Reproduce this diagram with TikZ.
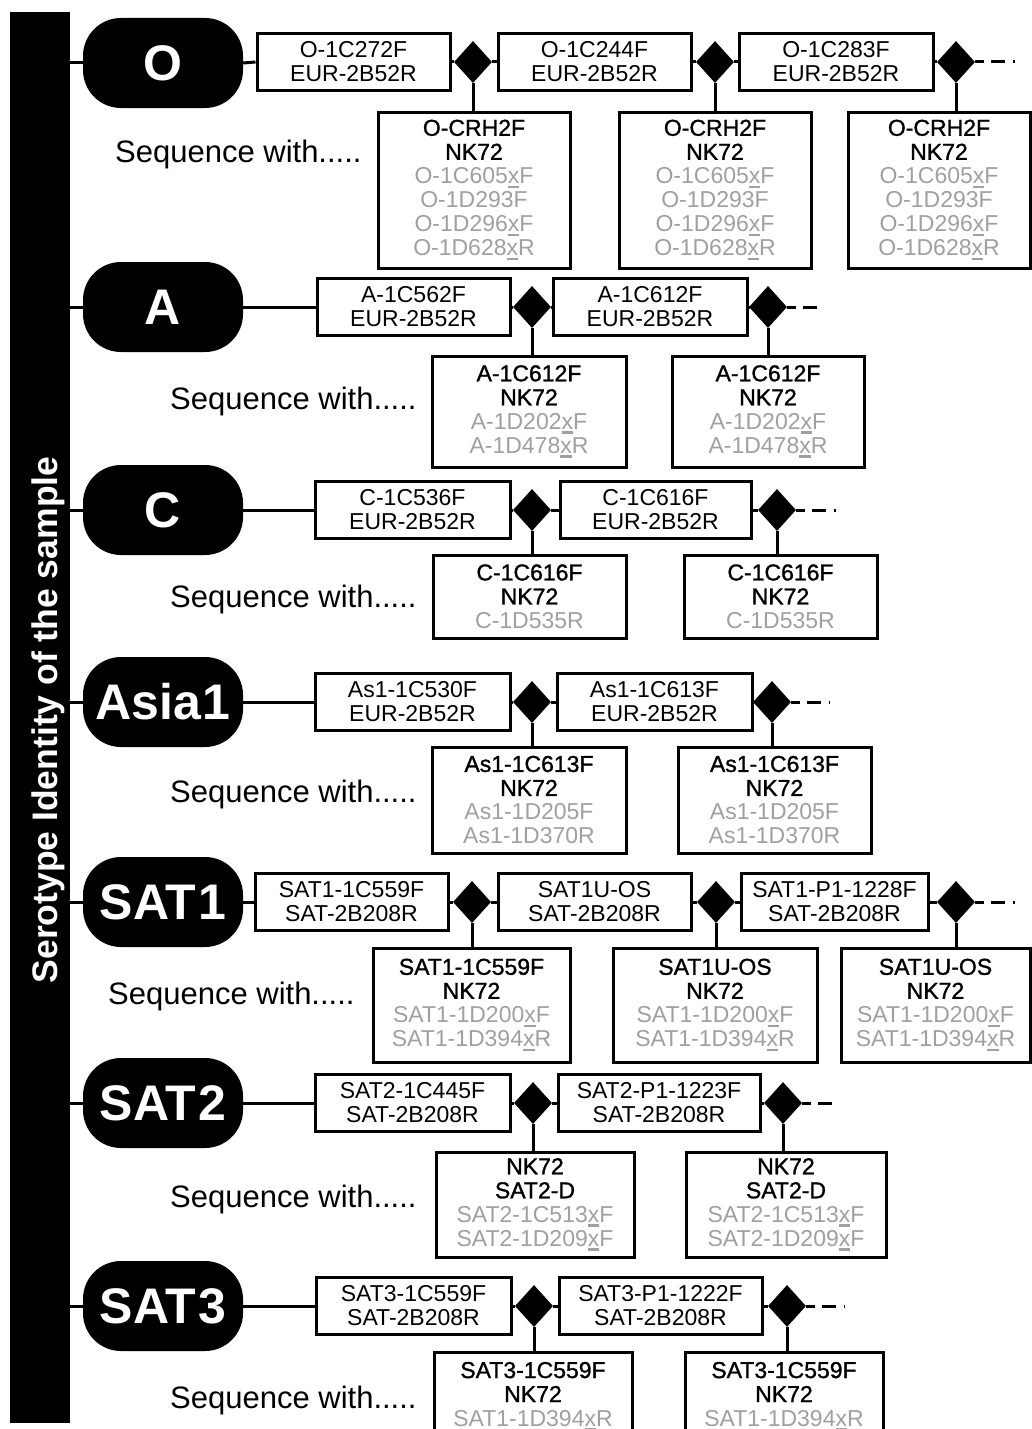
\documentclass[tikz,border=0pt]{standalone}
\usepackage{fontspec}
\setmainfont{Liberation Sans}
\newfontfamily\semib[FakeBold=1.2]{Liberation Sans}
\usetikzlibrary{shapes.geometric}
\definecolor{gtx}{HTML}{A0A0A0}
\newcommand\ux{\makebox[0pt][l]{\rule[-4.5pt]{0.5em}{2.5pt}}x}
\newcommand\gl[1]{\textcolor{gtx}{\normalfont\fontsize{23}{24}\selectfont #1}}
\newcommand\bk[1]{{\semib #1}}
\begin{document}
\begin{tikzpicture}[x=1pt,y=-1pt,
  pbox/.style={draw, line width=3pt, inner sep=0pt, align=center, font=\fontsize{23}{24}\selectfont, minimum height=57},
  lbox/.style={pbox},
  dmd/.style={diamond, fill=black, inner sep=0pt, minimum width=38, minimum height=42},
  pill/.style={fill=black, rounded corners=38pt, minimum width=160, minimum height=90, text=white, font=\fontsize{50}{50}\selectfont\bfseries, inner sep=0pt},
  conn/.style={line width=3pt},
  cont/.style={line width=3pt, dash pattern=on 9pt off 7pt on 14pt off 8pt on 3pt off 200pt},
  seq/.style={anchor=base west, inner sep=0pt, font=\fontsize{31}{31}\selectfont},
]
\useasboundingbox (0,0) rectangle (1032,1429);
\clip (0,0) rectangle (1032,1429);
\fill[white] (0,0) rectangle (1032,1429);

% side bar
\node[fill=black, minimum width=60, minimum height=1411, inner sep=0pt] (bar) at (40,717.5) {};
\node[rotate=90, anchor=base, text=white, inner sep=0pt, font=\fontsize{35.5}{35.5}\selectfont\bfseries] (lab) at (57,720) {Serotype Identity of the sample};

% ---------- O ----------
\node[pill] (pO) at (163,63) {O};
\node[pbox, minimum width=193] (o1) at (353.5,62) {O-1C272F\\EUR-2B52R};
\node[dmd] (od1) at (473,62) {};
\node[pbox, minimum width=193] (o2) at (594.5,62) {O-1C244F\\EUR-2B52R};
\node[dmd] (od2) at (715,62) {};
\node[pbox, minimum width=194] (o3) at (836,62) {O-1C283F\\EUR-2B52R};
\node[dmd] (od3) at (956,62) {};
\coordinate (oe) at (1015,62);
\node[lbox, minimum width=192, minimum height=156] (ol1) at (474,190) {\bk{O-CRH2F}\\\bk{NK72}\\\gl{O-1C605\ux F}\\\gl{O-1D293F}\\\gl{O-1D296\ux F}\\\gl{O-1D628\ux R}};
\node[lbox, minimum width=192, minimum height=156] (ol2) at (715,190) {\bk{O-CRH2F}\\\bk{NK72}\\\gl{O-1C605\ux F}\\\gl{O-1D293F}\\\gl{O-1D296\ux F}\\\gl{O-1D628\ux R}};
\node[lbox, minimum width=182, minimum height=156] (ol3) at (939,190) {\bk{O-CRH2F}\\\bk{NK72}\\\gl{O-1C605\ux F}\\\gl{O-1D293F}\\\gl{O-1D296\ux F}\\\gl{O-1D628\ux R}};
\node[seq] (os) at (115,162) {Sequence with.....};
\draw[conn] (bar.east |- pO.west) -- (pO.west);
\draw[conn] (pO.east) -- (o1.west);
\draw[conn] (o1.east) -- (od1.west);
\draw[conn] (od1.east) -- (o2.west);
\draw[conn] (o2.east) -- (od2.west);
\draw[conn] (od2.east) -- (o3.west);
\draw[conn] (o3.east) -- (od3.west);
\draw[cont] (od3.east) -- (oe);
\draw[conn] (od1.south) -- (od1.south |- ol1.north);
\draw[conn] (od2.south) -- (od2.south |- ol2.north);
\draw[conn] (od3.south) -- (od3.south |- ol3.north);

% ---------- A ----------
\node[pill] (pA) at (163,307) {A};
\node[pbox, minimum width=193] (a1) at (413.5,307) {A-1C562F\\EUR-2B52R};
\node[dmd] (ad1) at (532,307) {};
\node[pbox, minimum width=194] (a2) at (650,307) {A-1C612F\\EUR-2B52R};
\node[dmd] (ad2) at (768,307) {};
\coordinate (ae) at (823,307);
\node[lbox, minimum width=194, minimum height=111] (al1) at (529,411.5) {\bk{A-1C612F}\\\bk{NK72}\\\gl{A-1D202\ux F}\\\gl{A-1D478\ux R}};
\node[lbox, minimum width=192, minimum height=111] (al2) at (768,411.5) {\bk{A-1C612F}\\\bk{NK72}\\\gl{A-1D202\ux F}\\\gl{A-1D478\ux R}};
\node[seq] (as) at (170,409) {Sequence with.....};
\draw[conn] (bar.east |- pA.west) -- (pA.west);
\draw[conn] (pA.east) -- (a1.west);
\draw[conn] (a1.east) -- (ad1.west);
\draw[conn] (ad1.east) -- (a2.west);
\draw[conn] (a2.east) -- (ad2.west);
\draw[cont] (ad2.east) -- (ae);
\draw[conn] (ad1.south) -- (ad1.south |- al1.north);
\draw[conn] (ad2.south) -- (ad2.south |- al2.north);

% ---------- C ----------
\node[pill] (pC) at (163,510) {C};
\node[pbox, minimum width=195] (c1) at (412.5,510) {C-1C536F\\EUR-2B52R};
\node[dmd] (cd1) at (532,510) {};
\node[pbox, minimum width=191] (c2) at (655.5,510) {C-1C616F\\EUR-2B52R};
\node[dmd] (cd2) at (777,510) {};
\coordinate (ce) at (836,510);
\node[lbox, minimum width=193, minimum height=83] (cl1) at (529.5,596.5) {\bk{C-1C616F}\\\bk{NK72}\\\gl{C-1D535R}};
\node[lbox, minimum width=193, minimum height=83] (cl2) at (780.5,596.5) {\bk{C-1C616F}\\\bk{NK72}\\\gl{C-1D535R}};
\node[seq] (cs) at (170,607) {Sequence with.....};
\draw[conn] (bar.east |- pC.west) -- (pC.west);
\draw[conn] (pC.east) -- (c1.west);
\draw[conn] (c1.east) -- (cd1.west);
\draw[conn] (cd1.east) -- (c2.west);
\draw[conn] (c2.east) -- (cd2.west);
\draw[cont] (cd2.east) -- (ce);
\draw[conn] (cd1.south) -- (cd1.south |- cl1.north);
\draw[conn] (cd2.south) -- (cd2.south |- cl2.north);

% ---------- Asia1 ----------
\node[pill] (pAs) at (163,702) {Asia\kern2pt 1};
\node[pbox, minimum width=195] (s1) at (412.5,702) {As1-1C530F\\EUR-2B52R};
\node[dmd] (sd1) at (532,702) {};
\node[pbox, minimum width=195] (s2) at (654.5,702) {As1-1C613F\\EUR-2B52R};
\node[dmd] (sd2) at (772,702) {};
\coordinate (se) at (830,702);
\node[lbox, minimum width=194, minimum height=106] (sl1) at (529,800) {\bk{As1-1C613F}\\\bk{NK72}\\\gl{As1-1D205F}\\\gl{As1-1D370R}};
\node[lbox, minimum width=193, minimum height=106] (sl2) at (774.5,800) {\bk{As1-1C613F}\\\bk{NK72}\\\gl{As1-1D205F}\\\gl{As1-1D370R}};
\node[seq] (ss) at (170,802) {Sequence with.....};
\draw[conn] (bar.east |- pAs.west) -- (pAs.west);
\draw[conn] (pAs.east) -- (s1.west);
\draw[conn] (s1.east) -- (sd1.west);
\draw[conn] (sd1.east) -- (s2.west);
\draw[conn] (s2.east) -- (sd2.west);
\draw[cont] (sd2.east) -- (se);
\draw[conn] (sd1.south) -- (sd1.south |- sl1.north);
\draw[conn] (sd2.south) -- (sd2.south |- sl2.north);

% ---------- SAT1 ----------
\node[pill] (pS1) at (163,902) {SAT\kern2pt 1};
\node[pbox, minimum width=193] (t1) at (351.5,902) {SAT1-1C559F\\SAT-2B208R};
\node[dmd] (td1) at (472,902) {};
\node[pbox, minimum width=193] (t2) at (594.5,902) {SAT1U-OS\\SAT-2B208R};
\node[dmd] (td2) at (716,902) {};
\node[pbox, minimum width=187] (t3) at (834.5,902) {SAT1-P1-1228F\\SAT-2B208R};
\node[dmd] (td3) at (956,902) {};
\coordinate (te) at (1015,902);
\node[lbox, minimum width=197, minimum height=114] (tl1) at (471.5,1005) {\bk{SAT1-1C559F}\\\bk{NK72}\\\gl{SAT1-1D200\ux F}\\\gl{SAT1-1D394\ux R}};
\node[lbox, minimum width=204, minimum height=114] (tl2) at (715,1005) {\bk{SAT1U-OS}\\\bk{NK72}\\\gl{SAT1-1D200\ux F}\\\gl{SAT1-1D394\ux R}};
\node[lbox, minimum width=189, minimum height=114] (tl3) at (935.5,1005) {\bk{SAT1U-OS}\\\bk{NK72}\\\gl{SAT1-1D200\ux F}\\\gl{SAT1-1D394\ux R}};
\node[seq] (ts) at (108,1004) {Sequence with.....};
\draw[conn] (bar.east |- pS1.west) -- (pS1.west);
\draw[conn] (pS1.east) -- (t1.west);
\draw[conn] (t1.east) -- (td1.west);
\draw[conn] (td1.east) -- (t2.west);
\draw[conn] (t2.east) -- (td2.west);
\draw[conn] (td2.east) -- (t3.west);
\draw[conn] (t3.east) -- (td3.west);
\draw[cont] (td3.east) -- (te);
\draw[conn] (td1.south) -- (td1.south |- tl1.north);
\draw[conn] (td2.south) -- (td2.south |- tl2.north);
\draw[conn] (td3.south) -- (td3.south |- tl3.north);

% ---------- SAT2 ----------
\node[pill] (pS2) at (163,1103) {SAT\kern2pt 2};
\node[pbox, minimum width=195] (u1) at (412.5,1103) {SAT2-1C445F\\SAT-2B208R};
\node[dmd] (ud1) at (533,1103) {};
\node[pbox, minimum width=202] (u2) at (659,1103) {SAT2-P1-1223F\\SAT-2B208R};
\node[dmd] (ud2) at (783,1103) {};
\coordinate (ue) at (840,1103);
\node[lbox, minimum width=198, minimum height=105] (ul1) at (535,1204.5) {\bk{NK72}\\\bk{SAT2-D}\\\gl{SAT2-1C513\ux F}\\\gl{SAT2-1D209\ux F}};
\node[lbox, minimum width=200, minimum height=105] (ul2) at (786,1204.5) {\bk{NK72}\\\bk{SAT2-D}\\\gl{SAT2-1C513\ux F}\\\gl{SAT2-1D209\ux F}};
\node[seq] (us) at (170,1207) {Sequence with.....};
\draw[conn] (bar.east |- pS2.west) -- (pS2.west);
\draw[conn] (pS2.east) -- (u1.west);
\draw[conn] (u1.east) -- (ud1.west);
\draw[conn] (ud1.east) -- (u2.west);
\draw[conn] (u2.east) -- (ud2.west);
\draw[cont] (ud2.east) -- (ue);
\draw[conn] (ud1.south) -- (ud1.south |- ul1.north);
\draw[conn] (ud2.south) -- (ud2.south |- ul2.north);

% ---------- SAT3 ----------
\node[pill] (pS3) at (163,1306) {SAT\kern2pt 3};
\node[pbox, minimum width=195] (v1) at (413.5,1306) {SAT3-1C559F\\SAT-2B208R};
\node[dmd] (vd1) at (534,1306) {};
\node[pbox, minimum width=203] (v2) at (660.5,1306) {SAT3-P1-1222F\\SAT-2B208R};
\node[dmd] (vd2) at (787,1306) {};
\coordinate (ve) at (845,1306);
\node[lbox, minimum width=198, minimum height=108] (vl1) at (533,1406) {\bk{SAT3-1C559F}\\\bk{NK72}\\\gl{SAT1-1D394\ux R}\\~};
\node[lbox, minimum width=198, minimum height=108] (vl2) at (784,1406) {\bk{SAT3-1C559F}\\\bk{NK72}\\\gl{SAT1-1D394\ux R}\\~};
\node[seq] (vs) at (170,1408) {Sequence with.....};
\draw[conn] (bar.east |- pS3.west) -- (pS3.west);
\draw[conn] (pS3.east) -- (v1.west);
\draw[conn] (v1.east) -- (vd1.west);
\draw[conn] (vd1.east) -- (v2.west);
\draw[conn] (v2.east) -- (vd2.west);
\draw[cont] (vd2.east) -- (ve);
\draw[conn] (vd1.south) -- (vd1.south |- vl1.north);
\draw[conn] (vd2.south) -- (vd2.south |- vl2.north);
\end{tikzpicture}
\end{document}
